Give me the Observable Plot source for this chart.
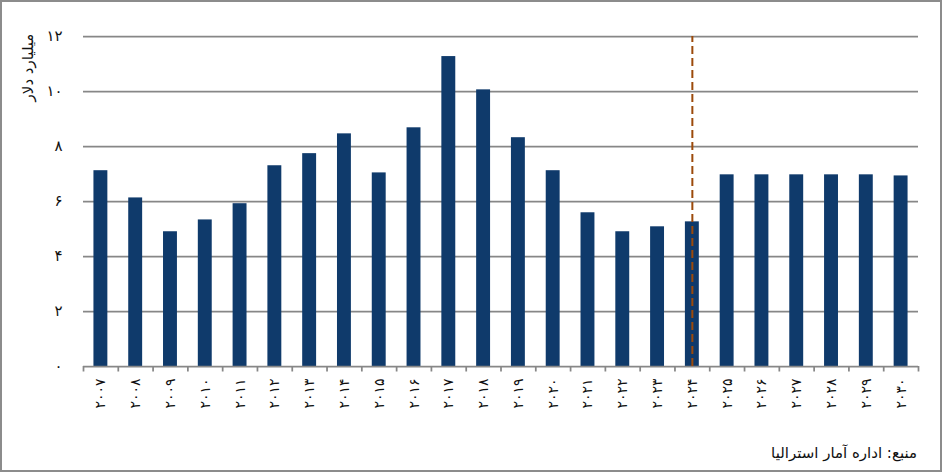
<!DOCTYPE html>
<html>
<head>
<meta charset="utf-8">
<script src="https://cdn.jsdelivr.net/npm/d3@7"></script>
<script src="https://cdn.jsdelivr.net/npm/@observablehq/plot@0.6"></script>
<style>
  body { margin: 0; background: #fff; }
  #wrap { position: relative; width: 942px; height: 472px; overflow: hidden; font-family: "DejaVu Sans", sans-serif; }
  #frame { position: absolute; left: 0; top: 0; width: 942px; height: 472px; box-sizing: border-box; border: 2px solid #8c8c8c; pointer-events: none; }
  #chart { position: absolute; left: 0; top: 0; }
  #source { position: absolute; right: 25px; top: 444px; font-size: 15px; color: #111; direction: rtl; }
</style>
</head>
<body>
<div id="wrap">
  <div id="chart"></div>
  <div id="source">منبع: اداره آمار استرالیا</div>
  <div id="frame"></div>
</div>
<script>
const years = [2007, 2008, 2009, 2010, 2011, 2012, 2013, 2014, 2015, 2016, 2017, 2018, 2019, 2020, 2021, 2022, 2023, 2024, 2025, 2026, 2027, 2028, 2029, 2030];
const values = [7.12, 6.13, 4.90, 5.33, 5.92, 7.30, 7.74, 8.46, 7.04, 8.68, 11.27, 10.06, 8.32, 7.12, 5.59, 4.90, 5.08, 5.26, 6.97, 6.97, 6.97, 6.97, 6.97, 6.93];
const yTicks = [0, 2, 4, 6, 8, 10, 12];
const markerYear = [2024];
const yTitle = "میلیارد دلار";

const faDigits = "۰۱۲۳۴۵۶۷۸۹";
const toFa = (n) => String(n).replace(/\d/g, (c) => faDigits[+c]);

const data = years.map((year, i) => ({year, value: values[i]}));

const W = 942, H = 430, mL = 83, mR = 24, mT = 36, mB = 64;
const step = (W - mL - mR) / years.length;
const barInset = step * 0.3;
const grey = "#878787";

const chart = Plot.plot({
  width: W,
  height: H,
  marginLeft: mL,
  marginRight: mR,
  marginTop: mT,
  marginBottom: mB,
  style: {fontFamily: "DejaVu Sans, sans-serif", background: "transparent", overflow: "visible"},
  x: {type: "band", domain: years, padding: 0, round: false, axis: null},
  y: {domain: [0, 12], axis: null},
  marks: [
    Plot.ruleY(yTicks.filter((t) => t > 0), {y: (d) => d, stroke: grey, strokeWidth: 1.75}),
    Plot.barY(data, {x: "year", y: "value", fill: "#0F3A6B", insetLeft: barInset, insetRight: barInset}),
    Plot.ruleY([0], {y: (d) => d, stroke: grey, strokeWidth: 1.75}),
    Plot.ruleX(years, {x: (d) => d, y1: 0, y2: -0.2, dx: -step / 2, stroke: grey, strokeWidth: 1.75}),
    Plot.ruleX([years[years.length - 1]], {x: (d) => d, y1: 0, y2: -0.2, dx: step / 2, stroke: grey, strokeWidth: 1.75}),
    Plot.ruleX(markerYear, {x: (d) => d, y1: 0, y2: 12, stroke: "#9C4A0B", strokeWidth: 2, strokeDasharray: "8,4"}),
    Plot.text(yTicks, {y: (d) => d, text: (d) => toFa(d), frameAnchor: "left", dx: -21, textAnchor: "end", fontSize: 15, fill: "#111"}),
    Plot.text(years, {x: (d) => d, y: 0, text: (d) => toFa(d), rotate: -90, textAnchor: "end", dy: 12, fontSize: 14, fill: "#111"}),
    Plot.text([yTitle], {text: (d) => d, frameAnchor: "top-left", dx: -61, dy: 31, rotate: -90, textAnchor: "middle", fontSize: 15, fill: "#111"})
  ]
});
document.getElementById("chart").appendChild(chart);
</script>
</body>
</html>
